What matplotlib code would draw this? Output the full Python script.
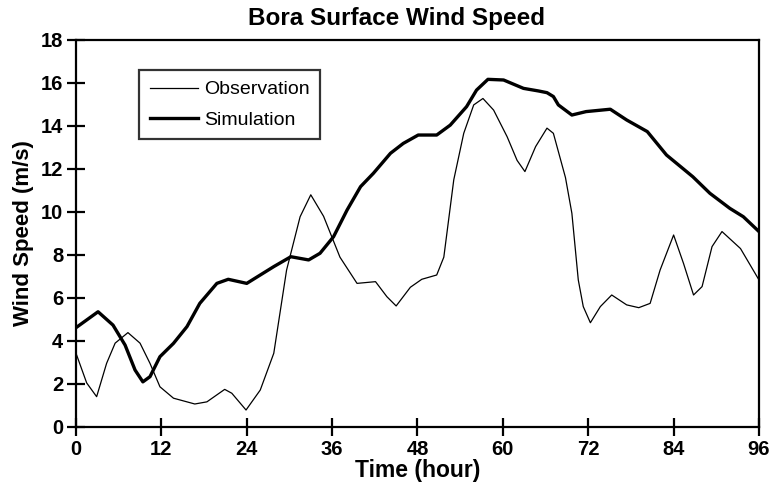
''' Bora surface wind speed: observation vs simulation '''

import matplotlib
matplotlib.use("Agg")
import matplotlib.pyplot as plt

obs_hour = [0, 1.5, 2.9, 4.3, 5.5, 7.3, 9.0, 10.4, 11.8, 13.7, 16.7, 18.4, 20.9, 21.9,
            23.9, 25.9, 27.8, 29.6, 31.5, 33.0, 34.8, 37.1, 39.5, 42.1, 43.7, 45.0,
            47.0, 48.6, 50.7, 51.7, 53.1, 54.5, 55.9, 57.2, 58.7, 60.6, 62.0, 63.1,
            64.6, 66.2, 67.1, 68.8, 69.7, 70.6, 71.3, 72.3, 73.7, 75.3, 77.4, 79.1,
            80.7, 82.1, 84.0, 85.4, 86.8, 88.0, 89.4, 90.8, 93.4, 96]
obs_speed = [3.43, 2.05, 1.41, 2.96, 3.9, 4.39, 3.9, 2.96, 1.87, 1.34, 1.07, 1.17, 1.75, 1.57,
             0.79, 1.72, 3.43, 7.3, 9.78, 10.8, 9.8, 7.9, 6.68, 6.76, 6.06, 5.63,
             6.5, 6.87, 7.07, 7.9, 11.5, 13.66, 14.98, 15.28, 14.74, 13.5, 12.4, 11.88,
             13.04, 13.9, 13.66, 11.6, 9.94, 6.84, 5.6, 4.85, 5.6, 6.14, 5.68, 5.55,
             5.75, 7.3, 8.93, 7.6, 6.14, 6.53, 8.39, 9.09, 8.3, 6.84]

sim_hour = [0, 3.1, 5.2, 6.9, 8.3, 9.4, 10.4, 11.8, 13.7, 15.6, 17.4, 19.8, 21.4, 24.0,
            25.9, 27.8, 30.2, 32.7, 34.3, 36.2, 38.1, 40.0, 41.8, 44.2, 46.0, 48.1,
            50.7, 52.6, 54.9, 56.3, 57.9, 60.1, 62.9, 65.0, 66.2, 67.1, 67.8, 69.7,
            71.7, 75.1, 77.4, 80.3, 83.0, 86.7, 89.1, 91.9, 93.8, 96]
sim_speed = [4.62, 5.36, 4.74, 3.81, 2.65, 2.1, 2.34, 3.27, 3.89, 4.67, 5.75, 6.68, 6.87, 6.68,
             7.07, 7.46, 7.92, 7.77, 8.08, 8.85, 10.09, 11.18, 11.8, 12.73, 13.19, 13.58,
             13.58, 14.04, 14.9, 15.67, 16.17, 16.14, 15.75, 15.63, 15.55, 15.37, 14.98, 14.51,
             14.67, 14.78, 14.28, 13.74, 12.65, 11.64, 10.87, 10.17, 9.78, 9.09]

x_ticks = list(range(0, 97, 12))
y_ticks = list(range(0, 19, 2))


def plot_wind():
    plt.rcParams['font.family'] = ['Liberation Sans', 'DejaVu Sans']
    fig = plt.figure(figsize=(7.7, 4.86), dpi=100)
    ax = fig.add_axes([0.0987, 0.1214, 0.887, 0.7963])

    ax.plot(obs_hour, obs_speed, color="black", linewidth=0.9, label="Observation",
            solid_joinstyle="round")
    ax.plot(sim_hour, sim_speed, color="black", linewidth=2.4, label="Simulation",
            solid_joinstyle="round")

    ax.set_xlim(0, 96)
    ax.set_ylim(0, 18)
    ax.set_xticks(x_ticks)
    ax.set_yticks(y_ticks)
    ax.tick_params(direction="inout", length=12.5, width=1.6, labelsize=14.5, pad=3)
    for lab in ax.get_xticklabels() + ax.get_yticklabels():
        lab.set_fontweight("bold")
    for s in ax.spines.values():
        s.set_linewidth(1.6)

    ax.set_xlabel("Time (hour)", fontsize=16.5, fontweight="bold", labelpad=0)
    ax.set_ylabel("Wind Speed (m/s)", fontsize=16, fontweight="bold", labelpad=5)
    fig.text(0.515, 0.962, "Bora Surface Wind Speed", fontsize=17.5, fontweight="bold",
             ha="center", va="center")

    leg = ax.legend(loc="upper left", bbox_to_anchor=(0.092, 0.922), borderaxespad=0,
                    fancybox=False, fontsize=14, handlelength=2.5, handletextpad=0.3,
                    labelspacing=0.65, borderpad=0.55)
    leg.get_frame().set_edgecolor("black")
    leg.get_frame().set_linewidth(1.6)

    fig.savefig("out.png", dpi=100)


if __name__ == "__main__":
    plot_wind()
